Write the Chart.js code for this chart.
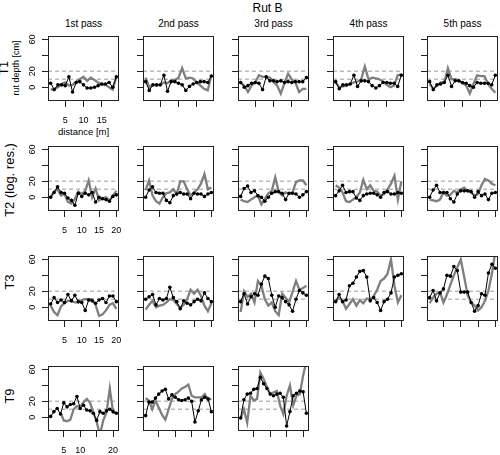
<!DOCTYPE html>
<html>
<head>
<meta charset="utf-8">
<script src="https://cdn.jsdelivr.net/npm/chart.js@4.4.0/dist/chart.umd.min.js"></script>
<style>
  body { margin: 0; background: #fff; width: 500px; height: 455px; position: relative; overflow: hidden;
         font-family: "Liberation Sans", Arial, sans-serif; }
  canvas { position: absolute; }
  .lbl { position: absolute; white-space: nowrap; color: #000; line-height: 1; }
  .ctr { transform: translate(-50%, -50%); }
  .rot { transform: translate(-50%, -50%) rotate(-90deg); }
</style>
</head>
<body>
<script>
// distance along the rut [m]
const DIST_T1 = [1, 2, 3, 4, 5, 6, 7, 8, 9, 10, 11, 12, 13, 14, 15, 16, 17, 18, 19];
const DIST_T2 = [1, 2, 3, 4, 5, 6, 7, 8, 9, 10, 11, 12, 13, 14, 15, 16, 17, 18, 19, 20];
const DIST_T3 = [1, 2, 3, 4, 5, 6, 7, 8, 9, 10, 11, 12, 13, 14, 15, 16, 17, 18, 19, 20];
const DIST_T9 = [1, 2, 3, 4, 5, 6, 7, 8, 9, 10, 11, 12, 13, 14, 15, 16, 17, 18, 19, 20, 21];

const PASSES = ["1st pass", "2nd pass", "3rd pass", "4th pass", "5th pass"];

// black line with dots (one array per pass)
const T1_OBS = [
  [5, -3, 3, 3, 2, 13, -6, 6, 7, 3, -1, -1, 0, 2, 4, 4, 6, 0, 13],
  [7, -4, 3, 3, 3, 15, -5, 7, 7, 5, 3, -4, 1, 4, 6, 7, 7, 6, 14],
  [6, 0, 2, 5, 6, 5, -3, 13, 8, 8, 7, 8, 6, 7, 6, 7, 7, 7, 12],
  [7, -2, 3, 3, 4, 15, 1, 8, 8, 7, 2, -1, 2, 6, 6, 5, 5, 1, 15],
  [7, -3, 3, 4, 6, 15, 1, 8, 8, 6, 5, 2, 0, 6, 5, 5, 5, 3, 15]
];
// grey line
const T1_PRED = [
  [-3, -2, 0, 4, 6, 2, 3, 7, 10, 13, 8, 12, 9, 6, 3, 3, 0, -3, 13],
  [12, 0, 3, 2, 3, 6, 5, 9, 9, 12, 24, 11, 12, 11, 6, 2, -2, -4, 15],
  [6, 2, -6, 2, 6, 15, 13, 13, 12, 7, 2, -8, 5, 17, 10, 6, -6, -2, -2],
  [6, 0, 1, 2, 4, 6, 7, 10, 26, 10, 12, 11, 10, 7, 3, 0, 2, 15, 16],
  [4, -2, 2, 6, 6, 24, 10, 10, 8, 5, 2, -8, 4, 15, 14, 14, 4, -2, -7]
];

const T2_OBS = [
  [0, 6, 13, 6, 5, -1, -4, -10, 5, 1, 5, 3, 6, -6, 0, -2, -3, -5, 1, 3],
  [0, 9, 13, 6, 5, 5, -4, -7, 2, 4, 6, 4, 4, -2, 5, 4, 4, 1, 4, 6],
  [1, 11, 14, 6, 8, 2, 0, -5, 0, 5, 7, 7, 5, -3, 5, 5, 4, 0, 3, 7],
  [2, 8, 15, 6, 7, 7, -1, -4, 2, 4, 5, 5, 3, 0, 6, 7, 4, 4, 6, 5],
  [0, 9, 15, 6, 6, 6, -2, -6, 4, 8, 8, 8, 7, 0, 7, 2, 4, -3, 5, 6]
];
const T2_PRED = [
  [0, 7, 10, 2, 4, -6, -8, -2, 7, 4, 8, 21, 0, 11, -4, -1, 0, -4, 2, 8],
  [9, 21, 2, -5, -8, 0, 5, 6, 10, 4, 20, 20, 10, 2, 6, 10, 17, 29, 10, 12],
  [-3, -5, -6, -3, 0, 2, -9, -2, 5, 8, 25, 7, 2, 6, 4, 6, 19, 21, 21, 15],
  [15, 12, 6, -5, -6, -3, 0, 6, 22, 10, 15, 8, 7, 2, 4, 10, 17, 27, -3, 20],
  [-3, -4, -5, -3, 6, 2, 3, 8, 6, 10, 12, 8, 6, 2, 4, 15, 23, 21, 17, 15]
];

const T3_OBS = [
  [4, 12, 6, 9, 6, 16, 8, 15, 7, 6, -4, 9, 8, 5, 9, 11, 6, 14, 14, 7],
  [10, 13, 16, 3, 11, 9, 11, 25, 12, 7, -2, 8, 5, 3, 7, 10, 8, 18, 11, 7],
  [7, 17, 4, 13, 17, 15, 29, 39, 36, 15, 0, 14, 12, 7, 3, -5, 10, 21, 18, 15],
  [7, 16, 7, 9, 27, 30, 38, 45, 46, 38, 8, 12, 6, -4, 7, 10, 18, 38, 40, 42],
  [12, 21, 8, 18, 23, 40, 39, 51, 46, 19, 19, 19, 6, -5, 2, 17, 15, 43, 54, 49]
];
const T3_PRED = [
  [2, -6, -10, 1, 5, 8, 8, 6, 6, 9, 10, 10, 10, 3, -11, -9, -4, 3, 5, -2],
  [-3, 3, 8, 0, 2, 3, 6, 10, 9, 4, -1, 3, 10, 22, 17, 22, 14, 2, -5, 5],
  [-6, 20, 13, 17, 6, 33, 27, 10, 2, 6, -5, -10, 17, 12, 6, 19, 33, 22, 24, 27],
  [7, 12, 8, -2, 4, 10, 2, 9, 5, 11, 10, 14, 22, 33, 36, 42, 60, 27, 6, 15],
  [5, 12, 17, 19, 6, 16, 28, 40, 50, 60, 38, 15, 6, 2, -4, 0, 8, 21, 42, 70]
];

const T9_OBS = [
  [1, 7, 11, 4, 18, 13, 16, 17, 26, 11, 15, 9, 8, 5, -4, 7, 5, 8, 10, 7, 5],
  [2, 19, 19, 24, 29, 33, 35, 23, 28, 25, 22, 21, 22, 24, 20, -6, 8, 22, 25, 23, 7],
  [-1, 22, 29, 30, 35, 36, 50, 42, 36, 29, 27, 29, 30, 25, -11, 7, 27, 30, 33, 32, 5]
];
const T9_PRED = [
  [null, null, null, 6, -4, -5, -3, 10, 14, 13, 19, 23, 18, 6, -6, -22, -4, 6, 36, 6, 6],
  [24, 21, 10, 21, 12, 3, -3, 10, 23, 29, 32, 36, 38, 41, 27, 25, 25, 25, 29, 22, 23],
  [-2, 10, -7, 27, 21, 23, 56, 48, 38, 29, 31, 33, 15, 4, 27, 40, 15, 27, 29, 52, 70]
];

// axis ticks and labels
const Y_TICKS = [0, 20, 40, 60];
const Y_TICK_LABELS = ["0", "20", "", "60"];
const X_TICKS_T1 = [5, 10, 15];
const X_TICK_LABELS_T1 = ["5", "10", "15"];
const X_TICKS = [5, 10, 15, 20];
const X_TICK_LABELS = ["5", "10", "15", "20"];
const X_TICK_LABELS_T9 = ["5", "10", "", "20"];
const REF_LEVELS = [20, 10]; // dashed reference lines

const ROWS = [
  { name: "T1", sub: "rut depth [cm]", dist: DIST_T1, obs: T1_OBS, pred: T1_PRED, ticks: X_TICKS_T1, tickLabels: X_TICK_LABELS_T1, labelY: 68 },
  { name: "T2 (log. res.)", dist: DIST_T2, obs: T2_OBS, pred: T2_PRED, ticks: X_TICKS, tickLabels: X_TICK_LABELS, labelY: 180 },
  { name: "T3", dist: DIST_T3, obs: T3_OBS, pred: T3_PRED, ticks: X_TICKS, tickLabels: X_TICK_LABELS, labelY: 282 },
  { name: "T9", dist: DIST_T9, obs: T9_OBS, pred: T9_PRED, ticks: X_TICKS, tickLabels: X_TICK_LABELS_T9, labelY: 396 }
];

// layout of the panel grid (plot box edges in page pixels)
const PANEL_LEFT = [48, 143, 238, 333, 427];
const PANEL_TOP = [36, 146, 256, 366];
const PANEL_W = 71, PANEL_H = 65;
const AXIS_W = 30, AXIS_H = 30, PAD_T = 4, PAD_R = 4;
const Y_MIN = -17.3, Y_MAX = 64.3;
const FONT = "'Liberation Sans', Arial, sans-serif";

function addText(text, x, y, size, rotated) {
  const d = document.createElement("div");
  d.className = "lbl " + (rotated ? "rot" : "ctr");
  d.style.left = x + "px";
  d.style.top = y + "px";
  d.style.fontSize = size + "px";
  d.textContent = text;
  document.body.appendChild(d);
}

// box around the plot region, dashed reference lines, rotated y tick labels
const panelDecor = {
  id: "panelDecor",
  beforeDatasetsDraw(chart) {
    const { ctx, chartArea: a, scales } = chart;
    ctx.save();
    ctx.strokeStyle = "#bbbbbb";
    ctx.lineWidth = 1.5;
    ctx.setLineDash([4, 3]);
    REF_LEVELS.forEach(v => {
      const py = scales.y.getPixelForValue(v);
      ctx.beginPath();
      ctx.moveTo(a.left, py);
      ctx.lineTo(a.right, py);
      ctx.stroke();
    });
    ctx.restore();
  },
  afterDraw(chart) {
    const { ctx, chartArea: a, scales } = chart;
    ctx.save();
    ctx.strokeStyle = "#222";
    ctx.lineWidth = 1;
    ctx.strokeRect(Math.round(a.left) + 0.5, Math.round(a.top) + 0.5,
                   Math.round(a.right - a.left) - 1, Math.round(a.bottom - a.top) - 1);
    if (chart.options.showYLabels) {
      ctx.fillStyle = "#000";
      ctx.font = "9px " + FONT;
      ctx.textAlign = "center";
      ctx.textBaseline = "middle";
      Y_TICKS.forEach((v, i) => {
        if (!Y_TICK_LABELS[i]) return;
        ctx.save();
        ctx.translate(a.left - 15.5, scales.y.getPixelForValue(v));
        ctx.rotate(-Math.PI / 2);
        ctx.fillText(Y_TICK_LABELS[i], 0, 0);
        ctx.restore();
      });
    }
    ctx.restore();
  }
};

function makePanel(r, c) {
  const row = ROWS[r];
  const canvas = document.createElement("canvas");
  canvas.width = AXIS_W + PANEL_W + PAD_R;
  canvas.height = PAD_T + PANEL_H + AXIS_H;
  canvas.style.left = (PANEL_LEFT[c] - AXIS_W) + "px";
  canvas.style.top = (PANEL_TOP[r] - PAD_T) + "px";
  document.body.appendChild(canvas);

  const n = row.dist.length;
  const pad = (row.dist[n - 1] - row.dist[0]) * 0.04;
  const first = c === 0;

  new Chart(canvas, {
    type: "line",
    data: {
      datasets: [
        {
          data: row.dist.map((x, i) => ({ x: x, y: row.obs[c][i] })),
          borderColor: "#000",
          borderWidth: 1,
          pointRadius: 1.8,
          pointBackgroundColor: "#000",
          pointBorderWidth: 0,
          tension: 0
        },
        {
          data: row.dist.map((x, i) => ({ x: x, y: row.pred[c][i] })),
          borderColor: "#7f7f7f",
          borderWidth: 2.3,
          pointRadius: 0,
          tension: 0
        }
      ]
    },
    options: {
      responsive: false,
      animation: false,
      events: [],
      showYLabels: first,
      layout: { padding: { top: PAD_T, right: PAD_R, left: 0, bottom: 0 } },
      plugins: { legend: { display: false }, tooltip: { enabled: false } },
      scales: {
        x: {
          type: "linear",
          min: row.dist[0] - pad,
          max: row.dist[n - 1] + pad,
          afterBuildTicks: s => { s.ticks = row.ticks.map(v => ({ value: v })); },
          afterFit: s => { s.height = AXIS_H; s.paddingLeft = 0; s.paddingRight = 0; },
          ticks: {
            display: first,
            autoSkip: false,
            maxRotation: 0,
            padding: 8,
            color: "#000",
            font: { family: FONT, size: 9 },
            callback: v => row.tickLabels[row.ticks.indexOf(v)]
          },
          grid: { drawOnChartArea: false, drawTicks: true, tickLength: 6, color: "#222", lineWidth: 1 },
          border: { display: false }
        },
        y: {
          min: Y_MIN,
          max: Y_MAX,
          afterBuildTicks: s => { s.ticks = Y_TICKS.map(v => ({ value: v })); },
          afterFit: s => { s.width = AXIS_W; },
          ticks: { display: false },
          grid: { drawOnChartArea: false, drawTicks: true, tickLength: 6, color: "#222", lineWidth: 1 },
          border: { display: false }
        }
      }
    },
    plugins: [panelDecor]
  });
}

// titles and axis labels
addText("Rut B", 267.5, 8, 12, false);
PASSES.forEach((p, c) => addText(p, PANEL_LEFT[c] + PANEL_W / 2, 23.5, 10, false));
addText("distance [m]", PANEL_LEFT[0] + PANEL_W / 2, 131.5, 9.5, false);
addText("T1", 4, ROWS[0].labelY, 12, true);
addText(ROWS[0].sub, 16, 68, 9, true);
ROWS.slice(1).forEach(row => addText(row.name, 9, row.labelY, 13, true));

ROWS.forEach((row, r) => {
  row.obs.forEach((_, c) => makePanel(r, c));
});
</script>
</body>
</html>
